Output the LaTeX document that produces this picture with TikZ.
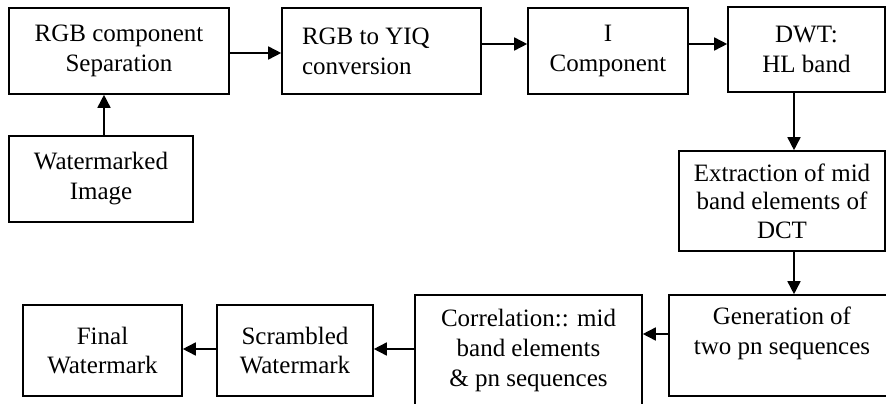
\documentclass[tikz,border=0pt]{standalone}
\usepackage{fontspec}
\setmainfont{Liberation Serif}
\usetikzlibrary{arrows.meta}
\begin{document}
\begin{tikzpicture}[x=1pt,y=-1pt,
  box/.style={draw, line width=1.6pt, inner sep=0pt, align=center,
    font=\fontsize{25}{30}\selectfont},
  arr/.style={-{Triangle[length=13pt,width=13pt]}, line width=1.6pt}]
\useasboundingbox (0,0) rectangle (886,404);
% top row
\node[box, minimum width=220pt, minimum height=86pt] (b1) at (119,51) {RGB component\\Separation};
\node[box, minimum width=199pt, minimum height=86pt, text width=159pt, align=flush left] (b2) at (381.5,51) {RGB to YIQ\\conversion};
\node[box, minimum width=160pt, minimum height=86pt] (b3) at (608,51) {I\\Component};
\node[box, minimum width=157pt, minimum height=85pt] (b4) at (806.5,49.5) {DWT:\\HL band};
% left input
\node[box, minimum width=184pt, minimum height=86pt] (b5) at (101,179) {Watermarked\\Image};
% right column
\node[box, minimum width=206pt, minimum height=100pt, font=\fontsize{25}{28.5}\selectfont] (b6) at (782,201) {Extraction of mid\\band elements of\\DCT};
\node[box, minimum width=226pt, minimum height=101pt] (b7) at (782,345.5) {Generation of\\two pn sequences\\\mbox{}};
% bottom row
\node[box, minimum width=227pt, minimum height=111pt] (b8) at (528.5,350.5) {Correlation:: mid\\band elements\\\& pn sequences};
\node[box, minimum width=156pt, minimum height=91pt, font=\fontsize{25}{29}\selectfont] (b9) at (295,350.5) {Scrambled\\Watermark};
\node[box, minimum width=159pt, minimum height=91pt, font=\fontsize{25}{29}\selectfont] (b10) at (102.5,350.5) {Final\\Watermark};
% connectors
\draw[arr] ([yshift=-2pt]b1.east) -- ([yshift=-2pt]b1.east -| b2.west);
\draw[arr] ([yshift=7pt]b2.east) -- ([yshift=7pt]b2.east -| b3.west);
\draw[arr] ([yshift=7pt]b3.east) -- ([yshift=7pt]b3.east -| b4.west);
\draw[arr] ([xshift=3pt]b5.north) -- ([xshift=3pt]b5.north |- b1.south);
\draw[arr] ([xshift=-12.5pt]b4.south) -- ([xshift=-12.5pt]b4.south |- b6.north);
\draw[arr] ([xshift=12pt]b6.south) -- ([xshift=12pt]b6.south |- b7.north);
\draw[arr] ([yshift=11.5pt]b7.west) -- ([yshift=11.5pt]b7.west -| b8.east);
\draw[arr] ([yshift=1.5pt]b8.west) -- ([yshift=1.5pt]b8.west -| b9.east);
\draw[arr] ([yshift=1.5pt]b9.west) -- ([yshift=1.5pt]b9.west -| b10.east);
\end{tikzpicture}
\end{document}
